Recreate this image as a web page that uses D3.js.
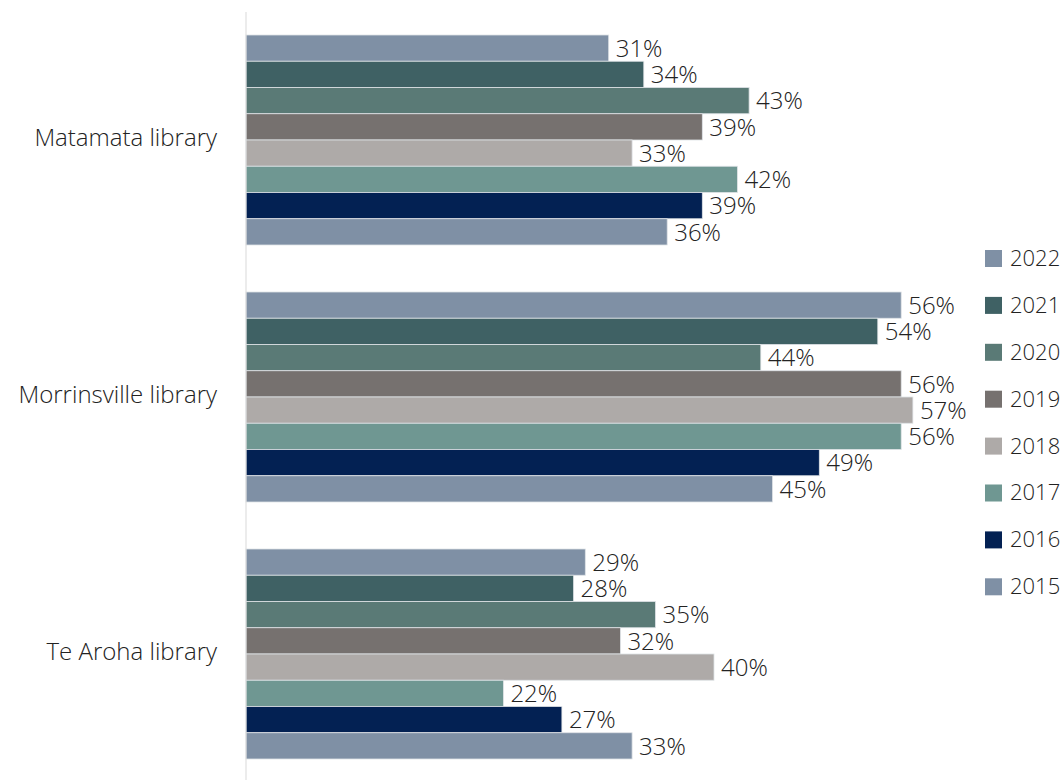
<!DOCTYPE html>
<html><head><meta charset="utf-8">
<script src="https://cdn.jsdelivr.net/npm/d3@7"></script>
<style>body{margin:0;background:#fff;} text{font-family:"Open Sans",Lato,sans-serif;font-weight:300;}</style>
</head><body>
<svg id="c" width="1064" height="780"></svg>
<script>
const categories = ["Matamata library", "Morrinsville library", "Te Aroha library"];
const years = ["2022", "2021", "2020", "2019", "2018", "2017", "2016", "2015"];
const v2022 = [31, 56, 29];
const v2021 = [34, 54, 28];
const v2020 = [43, 44, 35];
const v2019 = [39, 56, 32];
const v2018 = [33, 57, 40];
const v2017 = [42, 56, 22];
const v2016 = [39, 49, 27];
const v2015 = [36, 45, 33];
const colors = ["#7f90a5", "#3f6164", "#5a7a76", "#76716f", "#aeaaa8", "#6f9792", "#032153", "#7f90a5"];

const series = [v2022, v2021, v2020, v2019, v2018, v2017, v2016, v2015];
const svg = d3.select("#c");
const x = d3.scaleLinear().domain([0, 60]).range([246, 948]);
const y0 = d3.scaleBand().domain(categories).range([11.5, 782.5]).paddingInner(47/257).paddingOuter(23.5/257);
const y1 = d3.scaleBand().domain(years).range([0, y0.bandwidth()]);
const col = d3.scaleOrdinal().domain(years).range(colors);

const data = [];
categories.forEach((c, i) => years.forEach((yr, j) => data.push({c, yr, v: series[j][i]})));

const g = svg.append("g");
g.selectAll("rect.bar").data(data).join("rect").attr("class", "bar")
  .attr("x", x(0)).attr("y", d => y0(d.c) + y1(d.yr))
  .attr("width", d => x(d.v) - x(0)).attr("height", y1.bandwidth())
  .attr("fill", d => col(d.yr)).attr("stroke", "#dfe3e7").attr("stroke-width", 0.8);

// axis line
svg.append("line").attr("x1", x(0)).attr("x2", x(0)).attr("y1", 12).attr("y2", 780)
  .attr("stroke", "#d9d9d9").attr("stroke-width", 1);

// labels
const lab = g.selectAll("g.lab").data(data).join("g").attr("class", "lab")
  .attr("transform", d => `translate(${x(d.v) + 1},${y0(d.c) + y1(d.yr) + y1.bandwidth() / 2})`);
lab.append("rect").attr("x", 0).attr("y", -12).attr("width", 54).attr("height", 24).attr("fill", "#fff");
lab.append("text").attr("x", 6).attr("dy", "0.36em").attr("font-size", 24).attr("fill", "#222")
  .text(d => d.v + "%");

// category labels
svg.append("g").selectAll("text").data(categories).join("text")
  .attr("x", 217).attr("y", d => y0(d) + y0.bandwidth() / 2 - 3).attr("dy", "0.36em")
  .attr("text-anchor", "end").attr("font-size", 24).attr("fill", "#222").text(d => d);

// legend
const leg = svg.append("g").selectAll("g").data(years).join("g")
  .attr("transform", (d, i) => `translate(985,${258 + i * 46.9})`);
leg.append("rect").attr("x", 0).attr("y", -8).attr("width", 17).attr("height", 17).attr("fill", d => col(d));
leg.append("text").attr("x", 25).attr("dy", "0.36em").attr("font-size", 22).attr("fill", "#222").text(d => d);
</script>
</body></html>
